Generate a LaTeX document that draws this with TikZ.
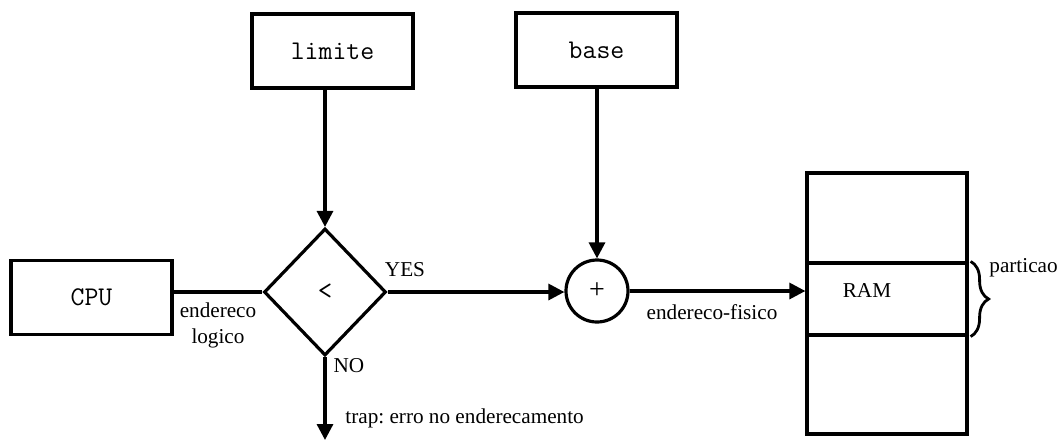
\documentclass[tikz,border=0pt]{standalone}
\usepackage{fontspec}
\setmainfont{Liberation Serif}
\usetikzlibrary{arrows.meta,shapes.geometric,decorations.pathreplacing}
\frenchspacing
\tikzset{
  regbox/.style={draw=black, line width=1.6pt, minimum width=80.5pt, minimum height=37pt, inner sep=0pt, font=\fontsize{13.5}{15}\ttfamily},
  cmpbox/.style={draw=black, line width=1.6pt, diamond, minimum width=61pt, minimum height=63.5pt, inner sep=0pt, font=\fontsize{14}{15}\ttfamily},
  sumnode/.style={draw=black, line width=1.6pt, circle, minimum size=31pt, inner sep=0pt, font=\fontsize{14}{15}\selectfont},
  memcell/.style={draw=black, line width=1.6pt, minimum width=80pt, inner sep=0pt},
  lbl/.style={font=\fontsize{10.6}{13}\selectfont, inner sep=0pt, align=center},
  farr/.style={-{Triangle[length=8pt,width=8pt]}, line width=1.6pt},
  fline/.style={line width=1.6pt}
}
\begin{document}
\begin{tikzpicture}[x=0.5pt, y=-0.5pt]
\useasboundingbox (0,0) rectangle (1057,441);
\node[regbox] (cpu) at (91.5,297.5) {CPU};
\node[regbox] (limite) at (332.5,51) {limite};
\node[regbox] (base) at (596.5,50) {base};
\node[cmpbox] (cmp) at (325,292) {<};
\node[sumnode] (sum) at (597,291) {+};
% memoria
\node[memcell, minimum height=45pt] (memtop) at (887,218) {};
\node[memcell, minimum height=36pt] (ram) at (887,299) {};
\node[memcell, minimum height=49.5pt] (membot) at (887,384.5) {};
\node[lbl] (ramtxt) at (867,290) {RAM};
\draw[line width=1.4pt, decorate, decoration={brace, amplitude=9pt}] ([xshift=1pt]ram.north east) -- ([xshift=1pt]ram.south east);
\node[lbl, anchor=west] (part) at (989,268) {particao};
\coordinate (trap) at (325,440);
\draw[fline] (cpu.east |- cmp.west) -- (cmp.west);
\draw[farr] (limite.south -| cmp.north) -- (cmp.north);
\draw[farr] (base.south -| sum.north) -- (sum.north);
\draw[farr] (cmp.east) -- (cmp.east -| sum.west);
\draw[farr] (sum.east) -- (sum.east -| ram.west);
\draw[farr] (cmp.south) -- (trap);
\node[lbl] (logico) at (218,325) {endereco\\logico};
\node[lbl] (yes) at (405,270) {YES};
\node[lbl] (no) at (349,366) {NO};
\node[lbl, anchor=west] (erro) at (345,418) {trap: erro no enderecamento};
\node[lbl] (fisico) at (712,312) {endereco-fisico};
\end{tikzpicture}
\end{document}
